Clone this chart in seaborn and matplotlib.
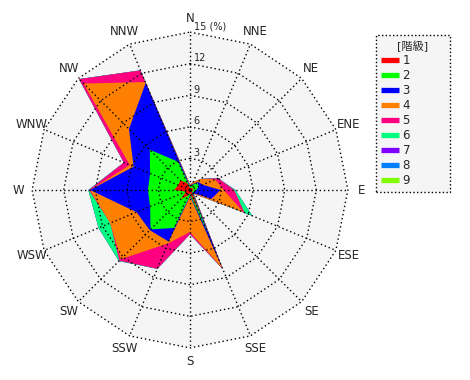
import matplotlib
matplotlib.use("Agg")
import matplotlib.pyplot as plt
from matplotlib.lines import Line2D
import numpy as np
import seaborn as sns

sns.set_theme(style="white")
plt.rcParams["font.family"] = ["DejaVu Sans", "Noto Sans CJK JP"]

# 16 directions, clockwise from north
directions = ["N", "NNE", "NE", "ENE", "E", "ESE", "SE", "SSE",
              "S", "SSW", "SW", "WSW", "W", "WNW", "NW", "NNW"]

# frequency (%) per wind-speed class
class_1 = [0.2, 0.2, 0.3, 0.3, 0.3, 0.3, 0.2, 2.5, 0.3, 0.6, 1.2, 0.4, 1.5, 1.2, 1.3, 0.7]
class_2 = [0.1, 0.3, 0.7, 0.6, 0.3, 0.2, 0.1, 2.0, 0.2, 3.3, 4.1, 3.7, 2.5, 2.9, 4.1, 2.2]
class_3 = [0.1, 0.1, 0.1, 0.4, 2.3, 1.7, 0.1, 3.5, 0.1, 1.4, 0.1, 1.4, 5.5, 1.7, 2.8, 8.1]
class_4 = [0.1, 0.2, 0.4, 1.3, 0.3, 3.3, 0.1, 0.05, 3.4, 0.2, 3.9, 2.7, 0.0, 0.4, 6.1, 0.1]
class_5 = [0.0, 0.0, 0.0, 0.3, 1.0, 0.1, 0.0, 0.05, 0.2, 2.6, 0.2, 0.0, 0.1, 0.6, 0.6, 1.2]
class_6 = [0.0, 0.0, 0.0, 0.0, 0.1, 0.8, 0.0, 0.0, 0.0, 0.0, 0.05, 1.2, 0.05, 0.0, 0.0, 0.0]
class_7 = [0.0] * 16
class_8 = [0.0] * 16
class_9 = [0.0] * 16

class_labels = ["1", "2", "3", "4", "5", "6", "7", "8", "9"]
class_colors = ["#ff0000", "#00ff00", "#0000ff", "#ff8000", "#ff0080",
                "#00ff80", "#8000ff", "#0080ff", "#80ff00"]

ring_values = [3, 6, 9, 12, 15]

freqs = np.array([class_1, class_2, class_3, class_4, class_5,
                  class_6, class_7, class_8, class_9])
cum = np.cumsum(freqs, axis=0)

theta = np.deg2rad(np.arange(len(directions)) * 360 / len(directions))
sx, sy = np.sin(theta), np.cos(theta)


def closed(a):
    return np.append(a, a[0])


fig = plt.figure(figsize=(4.7, 3.8), dpi=100)
ax = fig.add_axes([0, 0, 380 / 470, 1])
lim = 18.05
ax.set_xlim(-lim, lim)
ax.set_ylim(-lim, lim)
ax.set_aspect("equal")
ax.set_axis_off()

rmax = ring_values[-1]
ax.fill(closed(rmax * sx), closed(rmax * sy), color="#f5f5f5", lw=0, zorder=0)

# stacked polygons, outermost class first
for k in range(len(class_labels) - 1, -1, -1):
    r = cum[k]
    ax.fill(closed(r * sx), closed(r * sy), color=class_colors[k], lw=0, zorder=1)

# polygon grid
for v in ring_values:
    ax.plot(closed(v * sx), closed(v * sy), color="black", lw=1,
            ls=(0, (1, 2)), zorder=3)
for x, y in zip(sx, sy):
    ax.plot([0, rmax * x], [0, rmax * y], color="black", lw=1,
            ls=(0, (1, 2)), zorder=3)

for v in ring_values:
    txt = f"{v} (%)" if v == rmax else str(v)
    ax.text(0.35, v + 0.05, txt, ha="left", va="bottom", fontsize=7, zorder=4)

for name, x, y in zip(directions, sx, sy):
    ax.text(16.3 * x, 16.3 * y, name, ha="center", va="center", fontsize=8.5)

handles = [Line2D([], [], color=c, lw=3.8, solid_capstyle="butt") for c in class_colors]
leg = fig.legend(handles, class_labels, title="[階級]", loc="upper left",
                 bbox_to_anchor=(376 / 470, 1 - 195 / 380, 74 / 470, 160 / 380),
                 mode="expand", fontsize=8.5, title_fontsize=8,
                 handlelength=1.5, handletextpad=0.3, labelspacing=0.17,
                 borderpad=0.45, fancybox=False, framealpha=1, borderaxespad=0)
frame = leg.get_frame()
frame.set_facecolor("#f5f5f5")
frame.set_edgecolor("black")
frame.set_linestyle(":")
frame.set_linewidth(1)

fig.savefig("out.png", dpi=100)
